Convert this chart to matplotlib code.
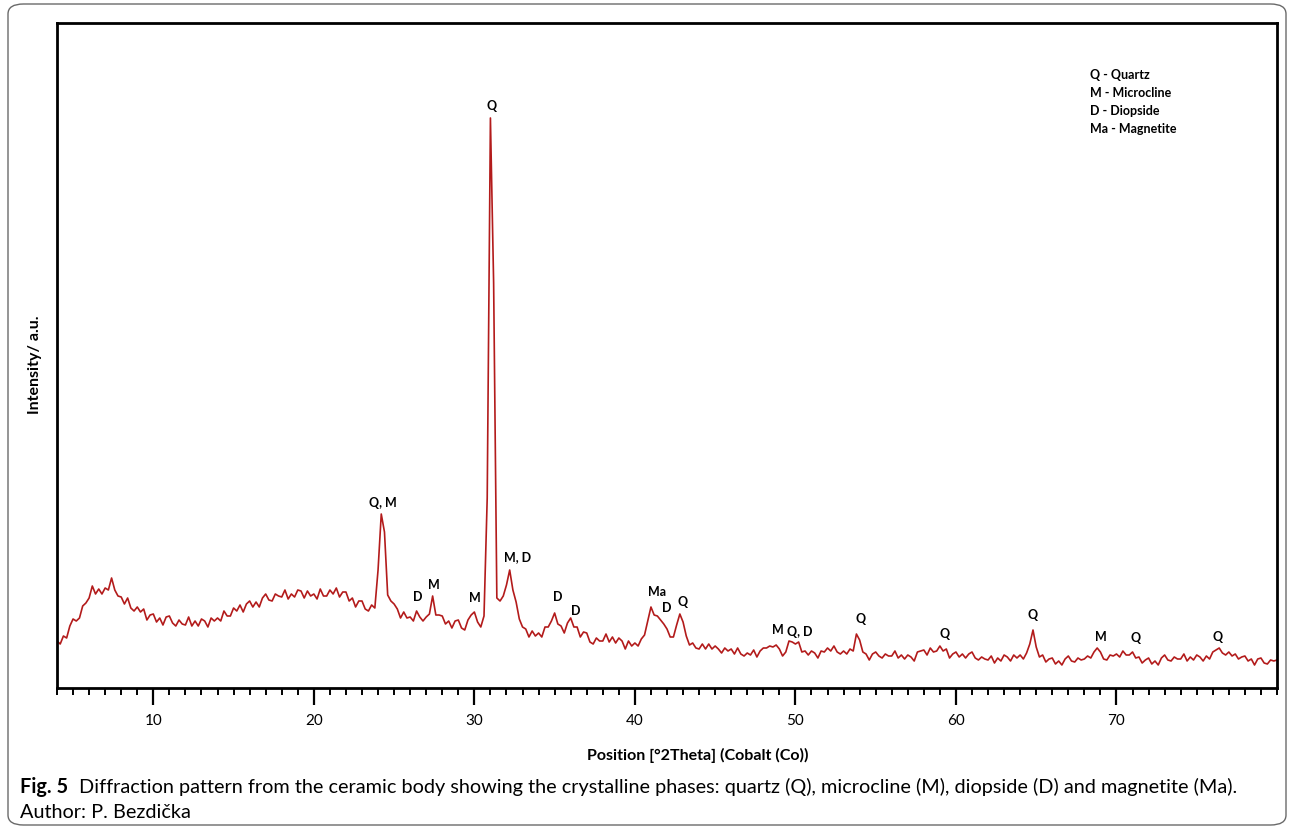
import numpy as np
import matplotlib
matplotlib.use("Agg")
import matplotlib.pyplot as plt
from matplotlib.patches import FancyBboxPatch
from matplotlib.ticker import MultipleLocator
from matplotlib import font_manager

# ---------------- data ----------------
two_theta = np.round(np.arange(4.0, 80.0001, 0.2), 1)   # 0.2 deg steps
intensity = [
    47, 44, 52, 50, 62, 69, 67, 70, 82, 85,      # 4.0 - 5.8
    90, 102, 94, 99, 94, 100, 98, 110, 98, 92,   # 6.0 - 7.8
    91, 84, 90, 80, 77, 81, 76, 79, 68, 73,      # 8
    74, 66, 70, 63, 71, 72, 65, 62, 68, 64,      # 10
    63, 71, 62, 67, 62, 69, 67, 61, 70, 67,      # 12
    70, 67, 77, 72, 72, 80, 77, 83, 76, 84,      # 14
    87, 81, 86, 81, 90, 94, 88, 87, 94, 92,      # 16
    91, 98, 89, 94, 91, 98, 97, 90, 97, 92,      # 18
    94, 89, 99, 92, 92, 98, 94, 100, 91, 96,     # 20
    96, 87, 90, 81, 87, 87, 79, 77, 83, 80,      # 22
    118, 174, 156, 93, 87, 84, 79, 70, 76, 70,   # 24
    71, 67, 77, 71, 67, 71, 74, 92, 73, 73,      # 26
    72, 64, 67, 60, 67, 68, 60, 58, 68, 73,      # 28
    76, 66, 61, 72, 190, 570, 405, 90, 87, 92,   # 30
    103, 118, 98, 86, 69, 61, 59, 51, 57, 52,    # 32
    55, 51, 61, 61, 67, 75, 64, 62, 55, 65,      # 34
    70, 61, 61, 51, 56, 55, 46, 44, 50, 47,      # 36
    47, 54, 46, 51, 45, 50, 47, 39, 47, 42,      # 38
    45, 42, 49, 53, 67, 81, 73, 72, 68, 64,      # 40
    59, 51, 51, 63, 74, 66, 52, 43, 45, 40,      # 42
    39, 44, 39, 44, 39, 42, 39, 35, 40, 37,      # 44
    39, 34, 40, 34, 32, 35, 33, 38, 31, 37,      # 46
    40, 40, 42, 41, 43, 39, 32, 36, 47, 46,      # 48
    44, 46, 36, 37, 33, 37, 35, 30, 37, 36,      # 50
    40, 37, 42, 36, 34, 37, 34, 39, 37, 54,      # 52
    48, 36, 34, 28, 34, 36, 32, 30, 34, 32,      # 54
    32, 37, 30, 33, 29, 33, 31, 27, 36, 37,      # 56
    38, 33, 40, 36, 37, 42, 37, 39, 30, 34,      # 58
    36, 31, 34, 30, 34, 36, 30, 28, 31, 29,      # 60
    28, 32, 25, 30, 27, 33, 31, 27, 33, 30,      # 62
    33, 29, 35, 44, 58, 41, 31, 33, 26, 29,      # 64
    30, 24, 27, 23, 29, 32, 27, 26, 30, 28,      # 66
    29, 32, 30, 36, 40, 36, 29, 28, 33, 32,      # 68
    34, 31, 37, 33, 33, 36, 30, 31, 25, 28,      # 70
    30, 24, 27, 23, 30, 33, 28, 27, 31, 29,      # 72
    29, 34, 27, 31, 28, 33, 31, 27, 32, 29,      # 74
    36, 38, 40, 35, 33, 36, 32, 34, 29, 31,      # 76
    32, 27, 29, 23, 29, 30, 25, 24, 28, 27,      # 78
    28,                                          # 80
]

peak_labels = ["Q", "Q, M", "D", "M", "M", "M, D", "D", "D", "Ma", "D", "Q",
               "M", "Q, D", "Q", "Q", "Q", "M", "Q", "Q"]
label_theta = [31.06, 24.27, 26.45, 27.45, 30.06, 32.7, 35.2, 36.3, 41.4, 42.0, 43.0,
               48.9, 50.3, 54.05, 59.3, 64.8, 69.0, 71.2, 76.3]
label_int = [582, 185, 91, 103, 90, 131, 91, 77, 96, 80, 86,
             58, 56, 69, 54, 73, 51, 50, 51]

legend_lines = ["Q - Quartz", "M - Microcline", "D - Diopside", "Ma - Magnetite"]
x_major = [10, 20, 30, 40, 50, 60, 70]

# ---------------- fonts ----------------
avail = {f.name for f in font_manager.fontManager.ttflist}
def pick(names):
    for n in names:
        if n in avail:
            return n
    return "DejaVu Sans"
label_font = pick(["Lato", "Open Sans", "Noto Sans", "DejaVu Sans"])
cap_font = pick(["Liberation Sans Narrow", "Lato", "Open Sans", "DejaVu Sans"])

W, H = 1290, 830
fig = plt.figure(figsize=(W / 100, H / 100), dpi=100)
fig.patch.set_facecolor("white")

# rounded outer frame
frame = FancyBboxPatch((8 / W, 5 / H), (1286 - 8) / W, (826 - 5) / H,
                       boxstyle="round,pad=0,rounding_size=0.012",
                       transform=fig.transFigure, fill=False,
                       edgecolor="#6a6a6a", linewidth=1.0)
fig.patches.append(frame)

L, R, T, B = 57, 1277, 23, 688
ax = fig.add_axes([L / W, 1 - B / H, (R - L) / W, (B - T) / H])
ax.plot(two_theta, intensity, color="#b31b1b", linewidth=1.2)
ax.set_xlim(4.0, 80.0)
ax.set_ylim(0, 665)

for s in ax.spines.values():
    s.set_linewidth(2.0)
    s.set_color("black")
ax.set_yticks([])
ax.set_xticks(x_major)
ax.xaxis.set_minor_locator(MultipleLocator(1))
ax.tick_params(axis="x", which="major", direction="out", length=12.5, width=1.6,
               pad=6, labelsize=11)
ax.tick_params(axis="x", which="minor", direction="out", length=5, width=1.4)
for lab in ax.get_xticklabels():
    lab.set_fontfamily(label_font)

for txt, xt, yt in zip(peak_labels, label_theta, label_int):
    ax.text(xt, yt, txt, ha="center", va="center", fontsize=9,
            family=label_font, weight="bold", color="black")

# legend text block
for i, line in enumerate(legend_lines):
    fig.text(1090 / W, 1 - (75 + 18 * i) / H, line, ha="left", va="center",
             fontsize=9, family=label_font, weight="bold")

# axis titles
fig.text(35 / W, 1 - 365 / H, "Intensity/ a.u.", rotation=90, ha="center",
         va="center", fontsize=11.5, family=label_font, weight="bold")
fig.text(698 / W, 1 - 755 / H, "Position [°2Theta] (Cobalt (Co))", ha="center",
         va="center", fontsize=11.5, family=label_font, weight="bold")

# caption, sized to span the same width as the original
cap_rest = ("Diffraction pattern from the ceramic body showing the crystalline phases: "
            "quartz (Q), microcline (M), diopside (D) and magnetite (Ma).")
fig.canvas.draw()
renderer = fig.canvas.get_renderer()
fs = 12.0
t1 = fig.text(20 / W, 1 - 793 / H, "Fig. 5", weight="bold", fontsize=fs,
              family=cap_font, va="baseline", ha="left")
bb = t1.get_window_extent(renderer)
t2 = fig.text((bb.x1 + 9) / W, 1 - 793 / H, cap_rest, fontsize=fs,
              family=cap_font, va="baseline", ha="left")
bb2 = t2.get_window_extent(renderer)
scale = (1236 - 20) / (bb2.x1 - bb.x0)
fs2 = fs * scale
t1.set_fontsize(fs2)
bb = t1.get_window_extent(renderer)
t2.set_fontsize(fs2)
t2.set_x((bb.x1 + 9 * scale) / W)
fig.text(20 / W, 1 - 818 / H, "Author: P. Bezdička", fontsize=fs2,
         family=cap_font, va="baseline", ha="left")

fig.savefig("out.png", dpi=100, facecolor="white")
